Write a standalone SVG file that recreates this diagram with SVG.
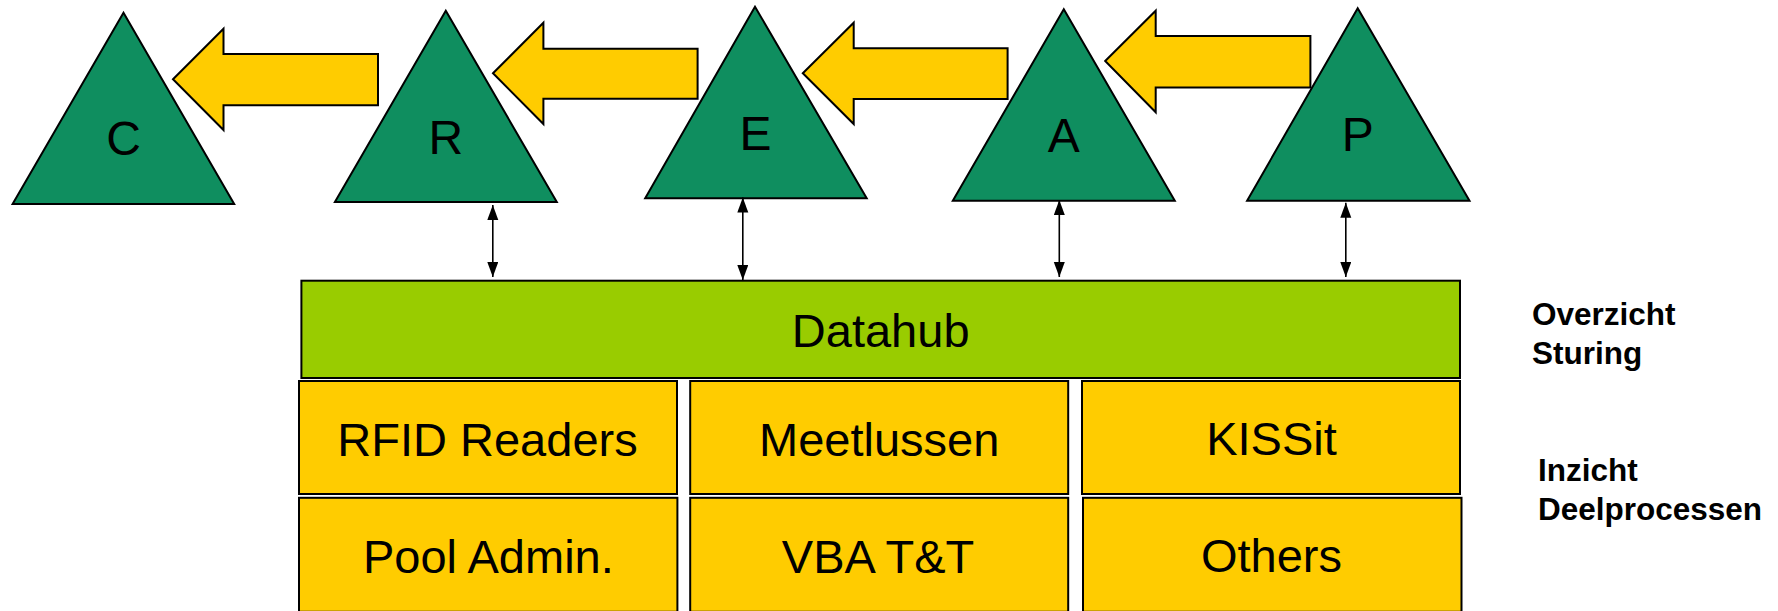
<svg xmlns="http://www.w3.org/2000/svg" width="1778" height="611" viewBox="0 0 1778 611">
<style>
.tri{fill:#0F8E5F;stroke:#000;stroke-width:2;stroke-linejoin:miter}
.blk{fill:#FFCC00;stroke:#000;stroke-width:2}
.box{fill:#FFCC00;stroke:#000;stroke-width:2}
.hub{fill:#99CC00;stroke:#000;stroke-width:2}
.lt{font-family:"Liberation Sans",Arial,sans-serif;font-size:48px;fill:#000;text-anchor:middle}
.bt{font-family:"Liberation Sans",Arial,sans-serif;font-size:47px;fill:#000;text-anchor:middle}
.side{font-family:"Liberation Sans",Arial,sans-serif;font-size:31.5px;font-weight:bold;fill:#000}
.con{stroke:#000;stroke-width:1.6;fill:none;marker-start:url(#ah);marker-end:url(#ah)}
</style>
<defs>
<marker id="ah" markerUnits="userSpaceOnUse" markerWidth="16" markerHeight="12" refX="15" refY="5.5" orient="auto-start-reverse">
<path d="M0,0 L15,5.5 L0,11 Z" fill="#000"/>
</marker>
</defs>
<g id="flow-arrows">
<polygon class="blk" points="173,79.3 223.5,28.7 223.5,54 378,54 378,105.3 223.5,105.3 223.5,130"/>
<polygon class="blk" points="493,73.3 543.4,22.7 543.4,48.7 697.6,48.7 697.6,98.7 543.4,98.7 543.4,124"/>
<polygon class="blk" points="802.8,73.3 853.7,22.7 853.7,48.3 1007.6,48.3 1007.6,99 853.7,99 853.7,124"/>
<polygon class="blk" points="1105.2,61 1155.7,10.7 1155.7,36 1310.4,36 1310.4,87.5 1155.7,87.5 1155.7,112.3"/>
</g>
<g id="node-C">
<polygon class="tri" points="123.5,12.7 234.2,204 12.6,204"/>
<text class="lt" x="123.5" y="155">C</text>
</g>
<g id="node-R">
<polygon class="tri" points="445.8,10.7 556.8,202 334.9,202"/>
<text class="lt" x="445.8" y="153.5">R</text>
</g>
<g id="node-E">
<polygon class="tri" points="755,6.7 866.7,198.3 645.2,198.3"/>
<text class="lt" x="755.5" y="149.5">E</text>
</g>
<g id="node-A">
<polygon class="tri" points="1063.8,9.3 1174.8,200.7 952.8,200.7"/>
<text class="lt" x="1063.8" y="151.7">A</text>
</g>
<g id="node-P">
<polygon class="tri" points="1357.7,8.3 1469.5,200.7 1247.1,200.7"/>
<text class="lt" x="1357.7" y="151">P</text>
</g>
<g id="connectors">
<line class="con" x1="492.8" y1="205" x2="492.8" y2="277"/>
<line class="con" x1="742.8" y1="197.5" x2="742.8" y2="280"/>
<line class="con" x1="1059.3" y1="200" x2="1059.3" y2="277"/>
<line class="con" x1="1345.8" y1="202.7" x2="1345.8" y2="277"/>
</g>
<g id="node-datahub">
<rect class="hub" x="301.4" y="280.7" width="1158.6" height="97.3"/>
<text class="bt" x="880.7" y="346.5">Datahub</text>
</g>
<g id="node-rfid">
<rect class="box" x="299" y="381" width="378" height="113"/>
<text class="bt" x="487.5" y="456">RFID Readers</text>
</g>
<g id="node-meetlussen">
<rect class="box" x="690.2" y="381" width="378" height="113"/>
<text class="bt" x="879.2" y="456">Meetlussen</text>
</g>
<g id="node-kissit">
<rect class="box" x="1082" y="381" width="378" height="113"/>
<text class="bt" x="1271.5" y="455">KISSit</text>
</g>
<g id="node-pool">
<rect class="box" x="299" y="497.8" width="378.4" height="114"/>
<text class="bt" x="488.4" y="572.5">Pool Admin.</text>
</g>
<g id="node-vba">
<rect class="box" x="690.2" y="497.8" width="378" height="114"/>
<text class="bt" x="878" y="572.5">VBA T&amp;T</text>
</g>
<g id="node-others">
<rect class="box" x="1083" y="497.8" width="378.5" height="114"/>
<text class="bt" x="1271.5" y="572.3">Others</text>
</g>
<g id="label-overzicht">
<text class="side" x="1532" y="325">Overzicht</text>
<text class="side" x="1532" y="364.3">Sturing</text>
</g>
<g id="label-inzicht">
<text class="side" x="1538" y="481">Inzicht</text>
<text class="side" x="1538" y="520">Deelprocessen</text>
</g>
</svg>
